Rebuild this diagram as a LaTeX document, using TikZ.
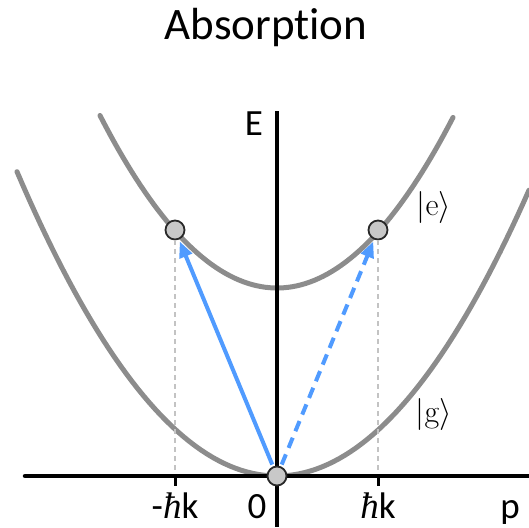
\documentclass[tikz,border=0pt]{standalone}
\usepackage{fix-cm}
\usepackage[no-math]{fontspec}
\setmainfont[Ligatures={NoCommon}]{Carlito}
\newfontfamily\hbarfont{Liberation Serif}
\usetikzlibrary{arrows.meta}
\definecolor{curvegray}{RGB}{140,140,140}
\definecolor{dotfill}{RGB}{200,200,200}
\definecolor{dotdraw}{RGB}{40,40,40}
\definecolor{guidegray}{RGB}{195,195,195}
\definecolor{photonblue}{RGB}{80,155,255}
\newcommand{\myhbar}{{\hbarfont\itshape ħ}}
\tikzset{
  curve/.style={draw=curvegray, line width=5pt, line cap=round},
  axisline/.style={draw=black, line width=4.5pt},
  tickline/.style={draw=black, line width=3pt},
  guide/.style={draw=guidegray, line width=1.6pt, dash pattern=on 5pt off 4pt},
  dot/.style={circle, minimum size=19pt, inner sep=0pt, fill=dotfill, draw=dotdraw, line width=1.8pt},
  photon/.style={draw=photonblue, line width=4pt, -{Triangle[length=16pt,width=13pt]}, shorten <=2pt, shorten >=2pt},
  lbl/.style={font=\fontsize{37}{44}\selectfont, inner sep=0pt},
  ketlbl/.style={font=\fontsize{32}{38}\selectfont, inner sep=0pt}
}
\begin{document}
\begin{tikzpicture}[x=1pt,y=-1pt]
\useasboundingbox (0,0) rectangle (529,527);
% title
\node[anchor=base, font=\fontsize{45}{54}\selectfont, inner sep=0pt] (title) at (266,40) {Absorpt\kern0pt ion};
% parabolas
\draw[curve] plot[domain=17:529, samples=90] (\x, {476-(0.0671*(\x-277))^2});
\draw[curve] plot[domain=100:453, samples=80] (\x, {288-(0.0742*(\x-277))^2});
% coordinates
\coordinate (xl) at (25,476);
\coordinate (xr) at (529,476);
\coordinate (yt) at (277,111);
\coordinate (yb) at (277,527);
\coordinate (lt) at (175,476);
\coordinate (ltb) at (175,486);
\coordinate (rt) at (378,476);
\coordinate (rtb) at (378,486);
% circles
\node[dot] (l) at (175,230) {};
\node[dot] (r) at (378,230) {};
% guides
\draw[guide] (l) -- (lt);
\draw[guide] (r) -- (rt);
% axes
\draw[axisline, line cap=round] (xl) -- (xr);
\draw[axisline] (yt) -- (yb);
\draw[tickline] (lt) -- (ltb);
\draw[tickline] (rt) -- (rtb);
\node[dot] (o) at (277,476) {};
% arrows
\draw[photon] (o) -- (l);
\draw[photon, dash pattern=on 11pt off 7pt] (o) -- (r);
% labels
\node[lbl] (E) at (254,124) {E};
\node[lbl, anchor=base] (mhk) at (175,518) {-\myhbar k};
\node[lbl, anchor=base] (zero) at (257,518) {0};
\node[lbl, anchor=base] (hk) at (378,518) {\myhbar k};
\node[lbl, anchor=base] (p) at (510,518) {p};
\node[ketlbl] (e) at (434,207) {$|\mathrm{e}\rangle$};
\node[ketlbl] (g) at (434,414) {$|\mathrm{g}\rangle$};
\end{tikzpicture}
\end{document}
